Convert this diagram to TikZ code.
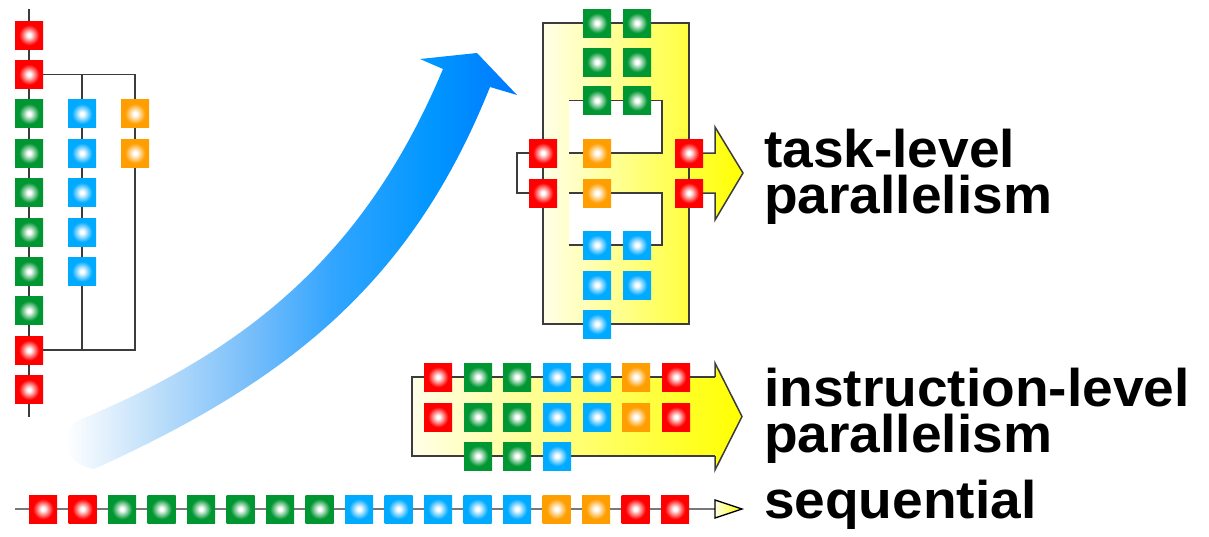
\documentclass[tikz,border=0pt]{standalone}
\usepackage{fontspec}
\setmainfont{Liberation Sans}
\newfontfamily\lblfont{Liberation Sans}[FakeStretch=1.04]
\definecolor{cred}{RGB}{255,0,0}
\definecolor{cgreen}{RGB}{0,150,50}
\definecolor{cblue}{RGB}{0,170,255}
\definecolor{corange}{RGB}{255,158,0}
\definecolor{lnc}{RGB}{60,60,60}
\definecolor{seqc}{RGB}{120,120,120}
\definecolor{ylight}{RGB}{255,255,232}
\definecolor{yfull}{RGB}{255,255,0}
\definecolor{baA}{RGB}{195,225,250}
\definecolor{baB}{RGB}{120,190,250}
\definecolor{baC}{RGB}{50,165,255}
\definecolor{baD}{RGB}{0,150,255}
\definecolor{baE}{RGB}{0,120,255}
\pgfdeclareradialshading{shr}{\pgfpoint{0bp}{0bp}}{color(0bp)=(white);color(3bp)=(white);color(18bp)=(cred);color(50bp)=(cred)}
\pgfdeclareradialshading{shg}{\pgfpoint{0bp}{0bp}}{color(0bp)=(white);color(3bp)=(white);color(18bp)=(cgreen);color(50bp)=(cgreen)}
\pgfdeclareradialshading{shb}{\pgfpoint{0bp}{0bp}}{color(0bp)=(white);color(3bp)=(white);color(18bp)=(cblue);color(50bp)=(cblue)}
\pgfdeclareradialshading{sho}{\pgfpoint{0bp}{0bp}}{color(0bp)=(white);color(3bp)=(white);color(18bp)=(corange);color(50bp)=(corange)}
\pgfdeclarehorizontalshading{bluearr}{100bp}{color(0bp)=(white);color(26bp)=(white);color(35bp)=(baA);color(46bp)=(baB);color(55bp)=(baC);color(66bp)=(baD);color(75bp)=(baE);color(100bp)=(baE)}
\pgfdeclarelayer{fills}
\pgfdeclarelayer{lines}
\pgfsetlayers{fills,lines,main}
\tikzset{
  sq/.style={rectangle, minimum size=28pt, inner sep=0pt, outer sep=0pt, shade},
  rs/.style={sq, shading=shr},
  gs/.style={sq, shading=shg},
  bs/.style={sq, shading=shb},
  os/.style={sq, shading=sho},
  ln/.style={draw=lnc, line width=1.5pt, line join=miter},
  seqln/.style={draw=seqc, line width=2.5pt},
  yfill/.style={left color=ylight, right color=yfull},
  lbl/.style={font=\lblfont\fontsize{53}{53}\selectfont\bfseries, anchor=base west, inner sep=0pt, outer sep=0pt},
}
\newcommand{\twolines}[3]{\vbox{\baselineskip=#3\lineskiplimit=-100pt\lineskip=0pt\hbox{#1}\hbox{#2}}}
\begin{document}
\begin{tikzpicture}[x=1pt,y=-1pt]
\useasboundingbox (0,0) rectangle (1209,536);

% ---------- left column (sequential tasks forked) ----------
\foreach \i/\s in {1/rs,2/rs,3/gs,4/gs,5/gs,6/gs,7/gs,8/gs,9/rs,10/rs}
  \node[\s] (L\i) at (29,{35+(\i-1)*39.4}) {};
\foreach \i in {1,...,5}
  \node[bs] (B\i) at (82,{113.8+(\i-1)*39.4}) {};
\foreach \i in {1,2}
  \node[os] (O\i) at (135,{113.8+(\i-1)*39.4}) {};
\coordinate (Ltop) at (29,9);
\coordinate (Lbot) at (29,417);

% ---------- task-level block ----------
\node[gs] (TG1) at (597,23) {};
\node[gs] (TG2) at (637,23) {};
\node[gs] (TG3) at (597,62) {};
\node[gs] (TG4) at (637,62) {};
\node[gs] (TG5) at (597,100.5) {};
\node[gs] (TG6) at (637,100.5) {};
\node[os] (TO1) at (597,153) {};
\node[os] (TO2) at (597,193) {};
\node[bs] (TB1) at (597,245) {};
\node[bs] (TB2) at (637,245) {};
\node[bs] (TB3) at (597,285) {};
\node[bs] (TB4) at (637,285) {};
\node[bs] (TB5) at (597,324) {};
\node[rs] (TR1) at (543,153) {};
\node[rs] (TR2) at (543,193) {};
\node[rs] (TR3) at (689,153) {};
\node[rs] (TR4) at (689,193) {};
\coordinate (Tc1) at (543,23);
\coordinate (Tc2) at (689,23);
\coordinate (Tc3) at (689,324);
\coordinate (Tc4) at (543,324);
\coordinate (Tl1) at (517,153);
\coordinate (Tl2) at (517,193);
\coordinate (Ths1) at (715,153);
\coordinate (Ths2) at (715,193);
\coordinate (Tha) at (715,127);
\coordinate (Ttip) at (743,173);
\coordinate (Thb) at (715,220);
\coordinate (P1a) at (569,100.5);
\coordinate (P1b) at (662,100.5);
\coordinate (P1c) at (662,153);
\coordinate (P1d) at (569,153);
\coordinate (P2a) at (569,193);
\coordinate (P2b) at (662,193);
\coordinate (P2c) at (662,245);
\coordinate (P2d) at (569,245);

% ---------- instruction-level block ----------
\foreach \i/\s/\x in {1/rs/438,2/gs/478,3/gs/517,4/bs/557,5/bs/597,6/os/636,7/rs/676}{
  \node[\s] (IA\i) at (\x,377) {};
  \node[\s] (IB\i) at (\x,417) {};
}
\node[gs] (IC1) at (478,456) {};
\node[gs] (IC2) at (517,456) {};
\node[bs] (IC3) at (557,456) {};
\coordinate (Il1) at (412,377);
\coordinate (Il2) at (412,456);
\coordinate (Ih1) at (715,377);
\coordinate (Ih2) at (715,456);
\coordinate (Iha) at (715,363);
\coordinate (Itip) at (742,416.5);
\coordinate (Ihb) at (715,470);

% ---------- sequential row ----------
\foreach \i/\s in {1/rs,2/rs,3/gs,4/gs,5/gs,6/gs,7/gs,8/gs,9/bs,10/bs,11/bs,12/bs,13/bs,14/os,15/os,16/rs,17/rs}
  \node[\s] (S\i) at ({43+(\i-1)*39.5},509) {};
\coordinate (Sst) at (15,509);
\coordinate (Sar) at (715,509);
\coordinate (Sara) at (715,500);
\coordinate (Sarb) at (715,518);
\coordinate (Sartip) at (742,509);

% ---------- labels ----------
\node[lbl] (tl) at (764,213) {\twolines{task-level}{parallelism}{46pt}};
\node[lbl] (il) at (764,452) {\twolines{instruction-level}{parallelism}{46pt}};
\node[lbl] (sl) at (764,518) {sequential};

% ---------- fills ----------
\begin{pgfonlayer}{fills}
  \shade[shading=bluearr] (490,87) -- (517,95) -- (477,53) -- (420,59) -- (443,69)
    .. controls (369.5,244) and (259,344.5) .. (84,418)
    .. controls (60,426) and (56,462) .. (94,469)
    .. controls (289,381) and (412,282) .. (490,87) -- cycle;
  \shade[yfill, even odd rule] (Tc1) -- (Tc2) -- (Ths1 -| Tc2) -- (Ths1) -- (Tha) -- (Ttip) -- (Thb) -- (Ths2) -- (Ths2 -| Tc3) -- (Tc3) -- (Tc4) -- cycle
    (P1a) rectangle (P1c) (P2a) rectangle (P2c);
  \shade[yfill] (Il1) -- (Ih1) -- (Iha) -- (Itip) -- (Ihb) -- (Ih2) -- (Il2) -- cycle;
\end{pgfonlayer}

% ---------- connectors ----------
\begin{pgfonlayer}{lines}
  % left column
  \draw[ln] (Ltop) -- (L1) -- (L2) -- (L3) -- (L4) -- (L5) -- (L6) -- (L7) -- (L8) -- (L9) -- (L10) -- (Lbot);
  \draw[ln] (L2) -| (O1) -- (O2) |- (L9);
  \draw[ln] (L2 -| B1) -- (B1) -- (B2) -- (B3) -- (B4) -- (B5) -- (B5 |- L9);
  % task-level
  \draw[ln] (TR1) -- (Tc1) -- (TG1) -- (TG2) -- (Tc2) -- (TR3) -- (TR4) -- (Tc3) -- (TB5) -- (Tc4) -- (TR2) -- (TR1);
  \draw[ln] (TR3) -- (Ths1) -- (Tha) -- (Ttip) -- (Thb) -- (Ths2) -- (TR4);
  \draw[ln] (TR1) -- (Tl1) -- (Tl2) -- (TR2);
  \draw[ln] (P1a) -- (TG5) -- (TG6) -- (P1b) -- (P1c) -- (TO1) -- (P1d) -- cycle;
  \draw[ln] (P2a) -- (TO2) -- (P2b) -- (P2c) -- (TB2) -- (TB1) -- (P2d) -- cycle;
  % instruction-level
  \draw[ln] (Ih1) -- (IA7) -- (IA6) -- (IA5) -- (IA4) -- (IA3) -- (IA2) -- (IA1) -- (Il1) -- (Il2) -- (IC1) -- (IC2) -- (IC3) -- (Ih2);
  \draw[ln] (Ih1) -- (Iha) -- (Itip) -- (Ihb) -- (Ih2);
  % sequential
  \draw[seqln] (Sst) -- (S1) -- (S2) -- (S3) -- (S4) -- (S5) -- (S6) -- (S7) -- (S8) -- (S9) -- (S10) -- (S11) -- (S12) -- (S13) -- (S14) -- (S15) -- (S16) -- (S17) -- (Sar);
  \shade[left color=ylight, right color=yfull, draw=black, line width=1.3pt, line join=miter] (Sara) -- (Sartip) -- (Sarb) -- cycle;
\end{pgfonlayer}
\end{tikzpicture}
\end{document}
